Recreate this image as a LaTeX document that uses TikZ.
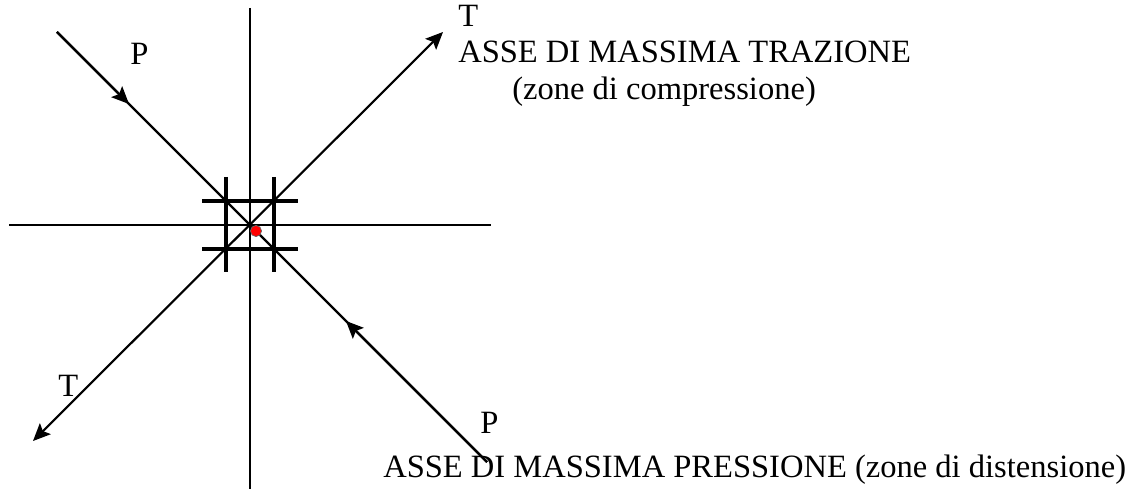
\documentclass[tikz,border=0pt]{standalone}
\usepackage{fontspec}
\setmainfont{Liberation Serif}
\usetikzlibrary{arrows.meta}
\begin{document}
\begin{tikzpicture}[x=0.75pt, y=-0.75pt, font=\fontsize{24.4}{28}\selectfont,
   >={Stealth[length=13pt, width=11.5pt, inset=2.5pt]},
   axis/.style={line width=1.6pt},
   frame/.style={line width=3.2pt},
   lbl/.style={anchor=base west, inner sep=0pt}]
\useasboundingbox (0,0) rectangle (1141,491);
% assi cartesiani
\coordinate (N) at (250,8);
\coordinate (S) at (250,489);
\coordinate (W) at (9,225);
\coordinate (E) at (491,225);
\draw[axis] (N) -- (S);
\draw[axis] (W) -- (E);
% asse P
\coordinate (P1) at (57,32);
\coordinate (P2) at (487,462);
\coordinate (Pa) at (129,104);
\coordinate (Pb) at (346,321);
\draw[axis] (P1) -- (P2);
\draw[axis,->] (P1) -- (Pa);
\draw[axis,->] (P2) -- (Pb);
% asse T
\coordinate (T1) at (33,441);
\coordinate (T2) at (443,32);
\draw[axis,<->] (T1) -- (T2);
% quadrato
\foreach \x in {226,274} \draw[frame] (\x,177) -- (\x,272);
\foreach \y in {201,249} \draw[frame] (202,\y) -- (298,\y);
\filldraw[fill=red, draw=black!60, line width=0.5pt] (256,231) circle (4.2pt);
% testi
\node[lbl] (pTop) at (130,65) {P};
\node[lbl] (tTop) at (458,27) {T};
\node[lbl] (trazione) at (458,63) {ASSE DI MASSIMA TRAZIONE};
\node[lbl] (compr) at (512,100) {(zone di compressione)};
\node[lbl] (tBot) at (58,396) {T};
\node[lbl] (pBot) at (480,433) {P};
\node[lbl] (pressione) at (383,477) {ASSE DI MASSIMA PRESSIONE (zone di distensione)};
\end{tikzpicture}
\end{document}
